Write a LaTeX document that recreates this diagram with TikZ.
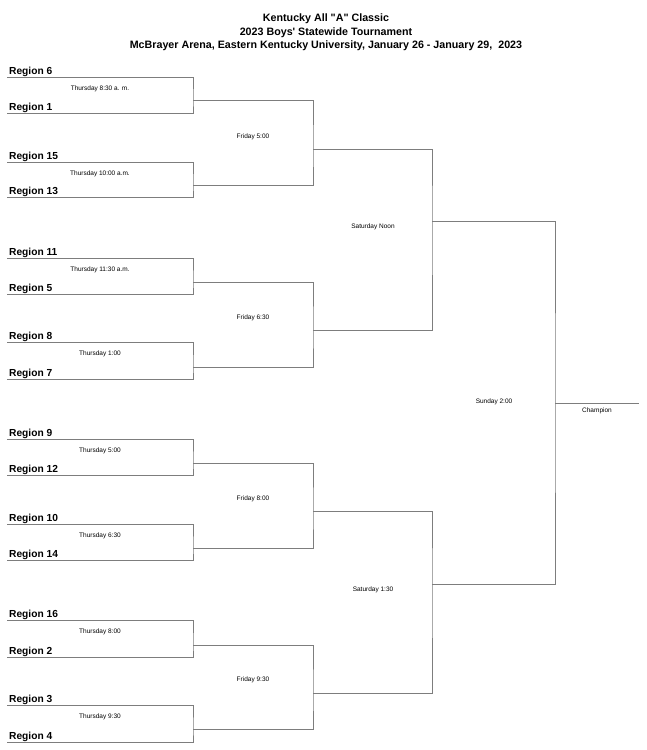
\documentclass[tikz,border=0pt]{standalone}
\usepackage{fontspec}
\usepackage{tikz}
\usetikzlibrary{positioning}

\newfontfamily\bracketfont{Liberation Sans}
\definecolor{linegray}{RGB}{125,125,125}

\tikzset{
    bracket/.style={draw=linegray, line width=0.9pt},
    region/.style={anchor=south west, inner xsep=2pt, inner ysep=0.3pt, font=\bracketfont\bfseries\fontsize{10.2}{12}\selectfont},
    game/.style={inner sep=0pt, font=\bracketfont\fontsize{6.5}{7}\selectfont},
    heading/.style={inner sep=0pt, font=\bracketfont\bfseries\fontsize{10.7}{12}\selectfont}
}

\begin{document}
\begin{tikzpicture}[x=1pt, y=-1pt]

    \useasboundingbox (0,0) rectangle (646,750);

    % heading
    \node[heading] (title1) at (326,18.5) {Kentucky All "A" Classic};
    \node[heading] (title2) at (326,32.5) {2023 Boys\textquotesingle\ Statewide Tournament};
    \node[heading] (title3) at (326,46) {McBrayer Arena, Eastern Kentucky University, January 26 - January 29,\ \ 2023};

    % first round: top line, bottom line, outlet, time
\foreach \ra/\rb/\ya/\yb/\yo/\n/\when in{
    6/1/77/113/100/1/Thursday 8:30 a. m.,
    15/13/162/197/185/2/Thursday 10:00 a.m.,
    11/5/258/294/282/3/Thursday 11:30 a.m.,
    8/7/342/379/367/4/Thursday 1:00,
    9/12/439/475/463/5/Thursday 5:00,
    10/14/524/560/548/6/Thursday 6:30,
    16/2/620/657/645/7/Thursday 8:00,
    3/4/705/742/729/8/Thursday 9:30}
{
    \node[region] (reg\ra) at (7,\ya) {Region \ra};
    \node[region] (reg\rb) at (7,\yb) {Region \rb};
    \coordinate (t\n) at (193,\yo);
    \draw[bracket] (reg\ra.south west) -| (t\n) |- (reg\rb.south west);
    \node[game] (thu\n) at (100,\ya+12) {\when};
}

    % second round
    \coordinate (f1) at (313,149);
    \coordinate (f2) at (313,330);
    \coordinate (f3) at (313,511);
    \coordinate (f4) at (313,693);
    \draw[bracket] (t1) -| (f1) |- (t2);
    \draw[bracket] (t3) -| (f2) |- (t4);
    \draw[bracket] (t5) -| (f3) |- (t6);
    \draw[bracket] (t7) -| (f4) |- (t8);
    \node[game] (fri1) at (253,137) {Friday 5:00};
    \node[game] (fri2) at (253,318) {Friday 6:30};
    \node[game] (fri3) at (253,499) {Friday 8:00};
    \node[game] (fri4) at (253,680) {Friday 9:30};

    % semifinals
    \coordinate (s1) at (432,221);
    \coordinate (s2) at (432,584);
    \draw[bracket] (f1) -| (s1) |- (f2);
    \draw[bracket] (f3) -| (s2) |- (f4);
    \node[game] (sat1) at (373,227) {Saturday Noon};
    \node[game] (sat2) at (373,590) {Saturday 1:30};

    % final
    \coordinate (fin) at (555,403);
    \coordinate (champ) at (639,403);
    \draw[bracket] (s1) -| (fin) |- (s2);
    \draw[bracket] (fin) -- (champ);
    \node[game] (sun) at (494,402) {Sunday 2:00};
    \node[game] (champion) at (597,411) {Champion};

\end{tikzpicture}
\end{document}
